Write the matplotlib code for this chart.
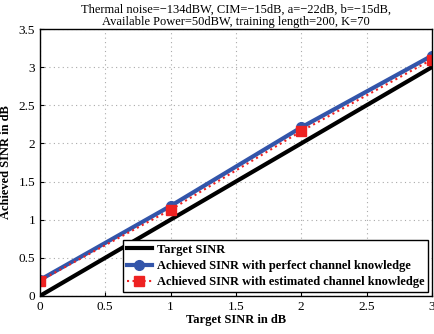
import matplotlib.pyplot as plt

# data
target = [0, 1, 2, 3]
achieved_perfect = [0.21, 1.18, 2.21, 3.15]
achieved_estimated = [0.20, 1.13, 2.16, 3.10]

plt.rcParams['font.family'] = ['Liberation Serif', 'DejaVu Serif']
plt.rcParams['xtick.direction'] = 'in'
plt.rcParams['ytick.direction'] = 'in'

fig = plt.figure(figsize=(4.34, 3.34), dpi=100)
ax = fig.add_axes([0.092, 0.114, 0.903, 0.799])

ax.plot(target, target, color='black', linewidth=3, label='Target SINR')
ax.plot(target, achieved_perfect, color='#3355aa', linewidth=3, marker='o',
        markersize=7, label='Achieved SINR with perfect channel knowledge')
ax.plot(target, achieved_estimated, color='#ee2222', linewidth=1.5, linestyle=':',
        marker='s', markersize=7, label='Achieved SINR with estimated channel knowledge')

ax.set_xlim(0, 3)
ax.set_ylim(0, 3.5)
ax.set_xticks([0, 0.5, 1, 1.5, 2, 2.5, 3])
ax.set_xticklabels(['0', '0.5', '1', '1.5', '2', '2.5', '3'])
ax.set_yticks([0, 0.5, 1, 1.5, 2, 2.5, 3, 3.5])
ax.set_yticklabels(['0', '0.5', '1', '1.5', '2', '2.5', '3', '3.5'])
ax.tick_params(labelsize=9.5, length=3)
ax.grid(True, linestyle=(0, (1, 3)), color='#aaaaaa', linewidth=0.8)
for s in ax.spines.values():
    s.set_linewidth(1.0)

ax.set_xlabel('Target SINR in dB', fontweight='bold', fontsize=9, labelpad=1)
ax.set_ylabel('Achieved SINR in dB', fontweight='bold', fontsize=9)
ax.yaxis.set_label_coords(-0.07, 0.5)
ax.set_title('Thermal noise=\u2212134dBW, CIM=\u221215dB, a=\u221222dB, b=\u221215dB,\n'
             'Available Power=50dBW, training length=200, K=70',
             fontsize=9, linespacing=1.0, pad=3)

leg = ax.legend(loc='lower right', fancybox=False, edgecolor='black', framealpha=1,
                prop={'weight': 'bold', 'size': 9}, borderpad=0.3,
                labelspacing=0.35, handlelength=2.0, handletextpad=0.4,
                borderaxespad=0.3)
leg.get_frame().set_linewidth(1.0)

fig.savefig('out.png', dpi=100)
